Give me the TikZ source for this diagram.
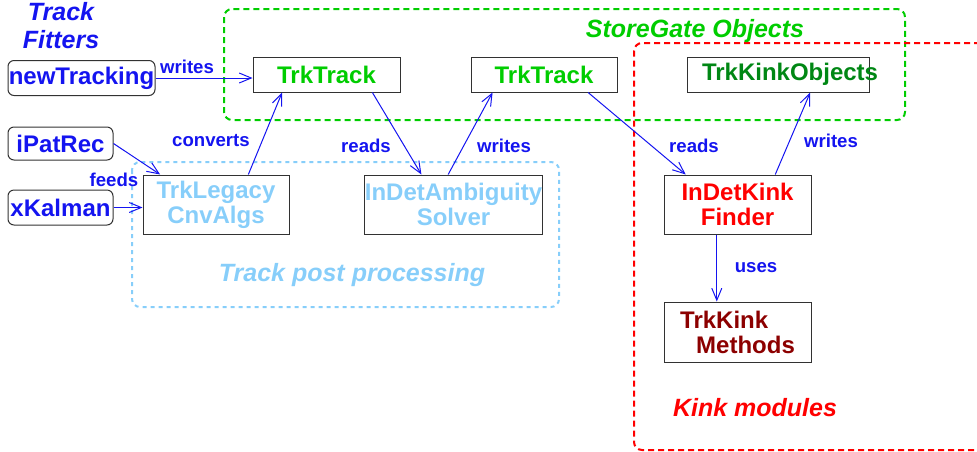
\documentclass[tikz,border=0pt]{standalone}
\usepackage{fontspec}
\setmainfont{Liberation Sans}
\usetikzlibrary{positioning,calc,arrows.meta}

\definecolor{sgreen}{RGB}{0,205,0}
\definecolor{kgreen}{RGB}{0,135,20}
\definecolor{pblue}{RGB}{135,206,250}
\definecolor{lblue}{RGB}{20,20,240}
\definecolor{kred}{RGB}{255,0,0}
\definecolor{mred}{RGB}{140,0,0}
\definecolor{frame}{RGB}{50,50,50}

\begin{document}
\begin{tikzpicture}[x=0.5pt,y=-0.5pt,
    box/.style={draw=frame,line width=0.5pt,inner sep=0pt,align=center,
        minimum width=73.5pt,minimum height=17.5pt,
        font=\fontsize{12}{12.5}\selectfont\bfseries},
    fitter/.style={box,rounded corners=3pt,text=lblue,minimum width=52.5pt},
    lbl/.style={text=lblue,inner sep=0pt,font=\fontsize{9.3}{11}\selectfont\bfseries},
    title/.style={inner sep=0pt,font=\fontsize{12.5}{15}\selectfont\bfseries\itshape},
    conn/.style={lblue,line width=0.5pt,-{Straight Barb[length=6pt,width=5pt]}}]
    \useasboundingbox (0,0) rectangle (977,451);

    % groups
    \draw[sgreen,line width=1pt,dash pattern=on 3pt off 2pt,rounded corners=4pt]
        (224,9) rectangle (905,120);
    \draw[pblue,line width=1pt,dash pattern=on 2pt off 2pt,rounded corners=4pt]
        (132,162) rectangle (559,307);
    \draw[kred,line width=1pt,dash pattern=on 3pt off 2pt,rounded corners=4pt]
        (980,43) -- (634,43) -- (634,450) -- (980,450);

    \node (fitters) [title,text=lblue,align=center,font=\fontsize{12.5}{14}\selectfont\bfseries\itshape]
        at (61,26) {Track\\Fitters};
    \node (sgtitle) [title,text=sgreen] at (695,31) {StoreGate Objects};
    \node (pptitle) [title,text=pblue] at (352,275) {Track post processing};
    \node (kinktitle) [title,text=kred] at (755,408) {Kink modules};

    % fitters
    \node (newtrk) [fitter,minimum width=73.5pt] at (81.5,78) {newTracking};
    \node (ipatrec) [fitter,minimum height=16.5pt] at (60.5,143.5) {iPatRec};
    \node (xkalman) [fitter] at (60.5,207.5) {xKalman};

    % storegate
    \node (trktrack) [box,text=sgreen] at (326.5,74.5) {TrkTrack};
    \node (trktrackb) [box,text=sgreen,minimum width=73pt] at (544,74.5) {TrkTrack};
    \node (kinkobj) [box,text=kgreen,minimum width=91pt] at (778,74.5)
        {\hspace*{4pt}\makebox[80pt][l]{TrkKinkObjects}};

    % algorithms
    \node (legacy) [box,text=pblue,minimum width=73pt,minimum height=29.5pt]
        at (216,204.5) {TrkLegacy\\CnvAlgs};
    \node (ambig) [box,text=pblue,minimum width=88.5pt,minimum height=29.5pt]
        at (453.5,204.5) {InDetAmbiguity\\Solver};
    \node (kinkfinder) [box,text=kred,minimum height=29.5pt]
        at (737.5,204.5) {InDetKink\\Finder};
    \node (kinkmeth) [box,text=mred,minimum height=30pt,align=left]
        at (737.5,332) {TrkKink\\\hspace*{8pt}Methods};

    \draw[conn] (newtrk.east) -- (newtrk.east -| trktrack.west);
    \draw[conn] (ipatrec.east) -- ($(legacy.north west)!0.12!(legacy.north east)$);
    \draw[conn] (xkalman.east) -- (xkalman.east -| legacy.west);
    \draw[conn] ($(legacy.north west)!0.72!(legacy.north east)$)
        -- ($(trktrack.south west)!0.2!(trktrack.south east)$);
    \draw[conn] ($(trktrack.south west)!0.81!(trktrack.south east)$)
        -- ($(ambig.north west)!0.32!(ambig.north east)$);
    \draw[conn] ($(ambig.north west)!0.47!(ambig.north east)$)
        -- ($(trktrackb.south west)!0.15!(trktrackb.south east)$);
    \draw[conn] ($(trktrackb.south west)!0.8!(trktrackb.south east)$)
        -- ($(kinkfinder.north west)!0.15!(kinkfinder.north east)$);
    \draw[conn] ($(kinkfinder.north west)!0.755!(kinkfinder.north east)$)
        -- ($(kinkobj.south west)!0.676!(kinkobj.south east)$);
    \draw[conn] ($(kinkfinder.south west)!0.36!(kinkfinder.south east)$)
        -- ($(kinkmeth.north west)!0.36!(kinkmeth.north east)$);

    % connector labels
    \node (wr1) [lbl] at (187,67) {writes};
    \node (feeds) [lbl] at (114,180) {feeds};
    \node (conv) [lbl] at (211,141) {converts};
    \node (rd1) [lbl] at (366,146) {reads};
    \node (wr2) [lbl] at (504,146) {writes};
    \node (rd2) [lbl] at (694,146) {reads};
    \node (wr3) [lbl] at (831,141) {writes};
    \node (uses) [lbl] at (756,268) {uses};
\end{tikzpicture}
\end{document}
